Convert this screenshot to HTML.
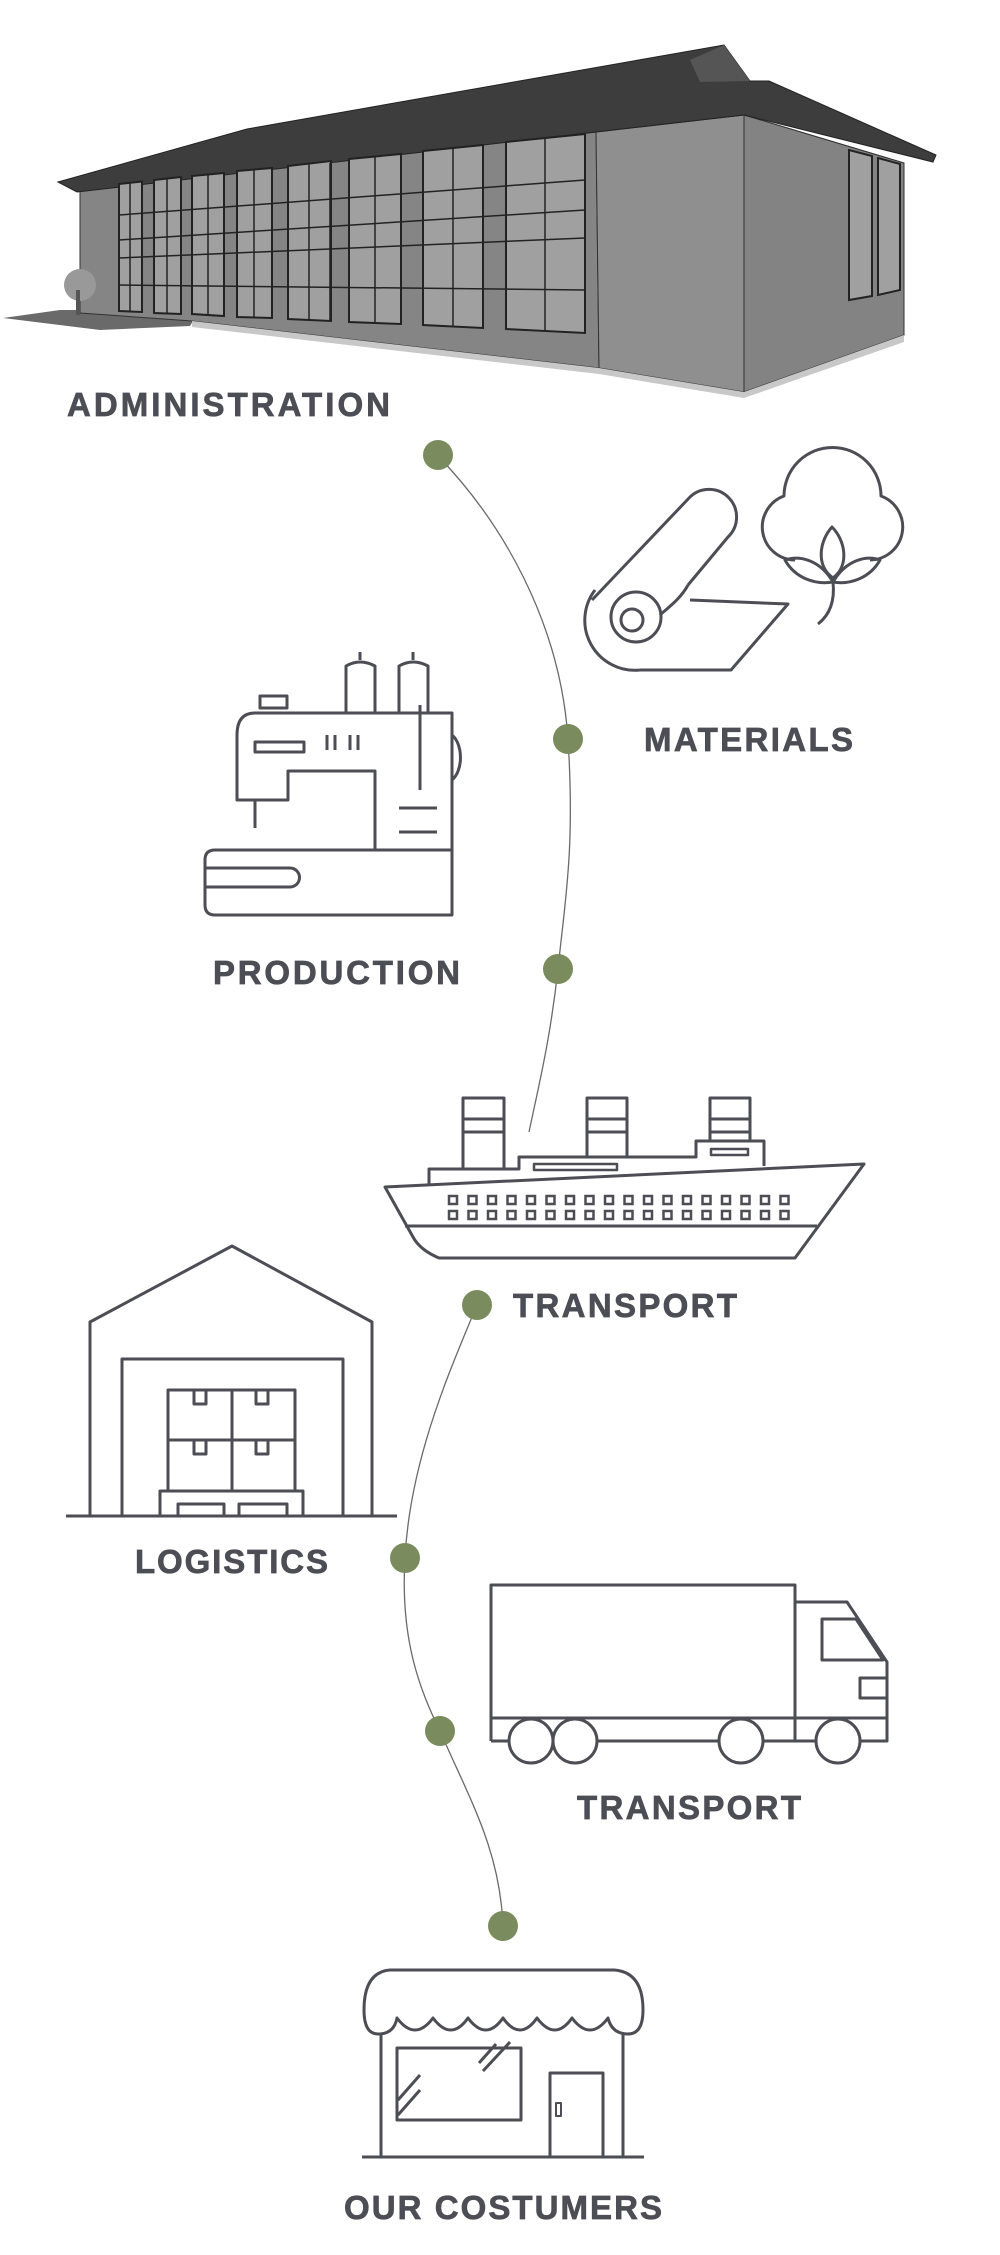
<!DOCTYPE html>
<html><head><meta charset="utf-8"><style>
html,body{margin:0;padding:0;background:#fff;}
svg{display:block;}
text{font-family:"Liberation Sans",sans-serif;font-weight:bold;fill:#4d4d55;stroke:#4d4d55;stroke-width:0.7;font-size:33px;}
</style></head><body>
<svg width="1000" height="2255" viewBox="0 0 1000 2255" xmlns="http://www.w3.org/2000/svg">
<!-- Building -->
<g>
<polygon points="3,318 60,310 200,310 190,326 100,330" fill="#6a6a6a"/>
<polygon points="80,189 596,132 599,368 192,321 80,313" fill="#858585" stroke="#333" stroke-width="1"/>
<polygon points="596,132 744,115 904,163 904,335 744,392 599,368" fill="#8f8f8f" stroke="#333" stroke-width="1"/>
<polygon points="744,115 904,163 904,335 744,392" fill="#838383" stroke="#333" stroke-width="1"/>
<polygon points="192,321 599,368 744,392 904,335 904,342 744,398 599,374 192,327" fill="#c8c8c8"/>
<polygon points="58,182 247,129 724,45 750,81 769,81 936,155 933,162 744,115 596,132 77,192" fill="#3d3d3d" stroke="#222" stroke-width="1"/>
<polygon points="690,60 724,45 750,81 700,82" fill="#555"/>
<g fill="#a0a0a0" stroke="#222" stroke-width="2">
<polygon points="119,184 142,181.5 142,312 119,311"/>
<polygon points="154,180 181,177 181,314 154,313"/>
<polygon points="192,176 224,173 224,316 192,314"/>
<polygon points="237,171 272,168 272,318 237,317"/>
<polygon points="288,166 331,161 331,321 288,319"/>
<polygon points="349,159 401,154 401,324 349,322"/>
<polygon points="423,151 483,145 483,328 423,325"/>
<polygon points="506,142 585,134 585,333 506,329"/>
<polygon points="849,150 872,156 872,296 849,300"/>
<polygon points="878,158 900,164 900,290 878,295"/>
</g>
<g stroke="#222" stroke-width="1.5">
<line x1="119" y1="240" x2="585" y2="210"/><line x1="119" y1="258" x2="585" y2="238"/>
<line x1="119" y1="215" x2="585" y2="180"/><line x1="119" y1="285" x2="585" y2="290"/>
<line x1="130" y1="183" x2="130" y2="312"/><line x1="167" y1="179" x2="167" y2="313"/>
<line x1="208" y1="175" x2="208" y2="315"/><line x1="254" y1="170" x2="254" y2="318"/>
<line x1="309" y1="164" x2="309" y2="320"/><line x1="375" y1="157" x2="375" y2="323"/>
<line x1="453" y1="148" x2="453" y2="327"/><line x1="545" y1="138" x2="545" y2="331"/>
<line x1="330" y1="163" x2="330" y2="321"/>
</g>
<circle cx="80" cy="285" r="16" fill="#999"/>
<rect x="76" y="290" width="4" height="25" fill="#555"/>
</g>
<text x="67" y="416" textLength="323" lengthAdjust="spacing">ADMINISTRATION</text>

<!-- Connector -->
<g fill="none" stroke="#6a6a6a" stroke-width="1.3">
<path d="M438,456 C500,520 560,620 568,739 C575,850 565,900 558,969 C550,1040 540,1080 529,1132"/>
<path d="M477,1305 C450,1370 410,1460 405,1558 C400,1640 420,1690 440,1731 C470,1800 500,1850 503,1926"/>
</g>
<g fill="#7a8c5e">
<circle cx="438" cy="455" r="15"/><circle cx="568" cy="739" r="15"/><circle cx="558" cy="969" r="15"/>
<circle cx="477" cy="1305" r="15"/><circle cx="405" cy="1558" r="15"/><circle cx="440" cy="1731" r="15"/><circle cx="503" cy="1926" r="15"/>
</g>

<g fill="none" stroke="#4d4d55" stroke-width="3" stroke-linejoin="round">
<!-- Materials -->
<path d="M592,600 L690,497 A27,27 0 0 1 728,537 L688,585 M640,670 A50,50 0 0 1 595,590"/>
<path d="M690,600 L788,604 L731,670 L640,670"/>
<circle cx="636" cy="617" r="25"/><circle cx="632" cy="620" r="11"/>
<path d="M688,585 C680,600 665,610 660,615"/>
<path d="M795,560 A33,33 0 0 1 784,496 A48,48 0 0 1 881,496 A33,33 0 0 1 870,560"/>
<path d="M833,578 C815,565 820,540 832,527 C845,540 850,565 833,578 Z"/>
<path d="M833,582 C820,560 800,555 785,560 C795,578 815,585 833,582 Z"/>
<path d="M833,582 C846,560 866,555 880,560 C870,578 850,585 833,582 Z"/>
<path d="M833,582 Q836,610 818,624"/>
<!-- Sewing machine -->
<path d="M346,712 V666 Q360,658 375,666 V712 M399,712 V666 Q413,658 428,666 V712 M360,660 V652 M413,660 V652"/>
<rect x="260" y="696" width="27" height="12"/>
<path d="M452,850 V713 H255 Q237,713 237,735 V800 H288 V771 H375 V850"/>
<path d="M452,735 A15,25 0 0 1 452,780"/>
<rect x="255" y="742" width="49" height="10"/>
<path d="M327,735 V750 M335,735 V750 M350,735 V750 M358,735 V750 M420,705 V790 M399,808 H437 M399,832 H437 M255,800 V828"/>
<path d="M215,850 H452 V915 H215 Q205,915 205,905 V860 Q205,850 215,850 Z"/>
<path d="M206,868 H290 A9.5,9.5 0 0 1 290,887 H206"/>
<!-- Ship -->
<path d="M385,1187 L864,1164 L795,1258 L439,1258 Q420,1250 413,1237 Z"/>
<path d="M405,1226 H817"/>
<path d="M429,1185 V1169 H519 V1157 H696 V1141 H764 V1166"/>
<path d="M463,1169 V1098 H504 V1169 M463,1119 H504 M463,1132 H504"/>
<path d="M587,1157 V1098 H627 V1157 M587,1119 H627 M587,1132 H627"/>
<path d="M710,1141 V1098 H750 V1141 M710,1119 H750 M710,1132 H750"/>
<rect x="534" y="1164" width="83" height="6" stroke-width="2.5"/>
<rect x="711" y="1149" width="37" height="6" stroke-width="2.5"/>
</g>
<g fill="none" stroke="#4d4d55" stroke-width="2.5">
<path id="ph" d="M449,1196h8v8h-8z M468.5,1196h8v8h-8z M488,1196h8v8h-8z M507.5,1196h8v8h-8z M527,1196h8v8h-8z M546.5,1196h8v8h-8z M566,1196h8v8h-8z M585.5,1196h8v8h-8z M605,1196h8v8h-8z M624.5,1196h8v8h-8z M644,1196h8v8h-8z M663.5,1196h8v8h-8z M683,1196h8v8h-8z M702.5,1196h8v8h-8z M722,1196h8v8h-8z M741.5,1196h8v8h-8z M761,1196h8v8h-8z M780.5,1196h8v8h-8z"/>
<use href="#ph" y="15"/>
</g>
<g fill="none" stroke="#4d4d55" stroke-width="3" stroke-linejoin="round">
<!-- Warehouse -->
<path d="M90,1516 V1322 L232,1246 L372,1322 V1516 M66,1516 H397"/>
<path d="M122,1516 V1359 H343 V1516"/>
<rect x="168" y="1390" width="127" height="101"/>
<path d="M232,1390 V1491 M168,1440 H295"/>
<path d="M194,1390 v14 h12 v-14 M256,1390 v14 h12 v-14 M194,1440 v14 h12 v-14 M256,1440 v14 h12 v-14"/>
<path d="M160,1516 V1491 H303 V1516 M178,1516 V1504 H224 V1516 M239,1516 V1504 H287 V1516"/>
<!-- Truck -->
<path d="M491,1741 V1585 H795 V1741 M795,1602 H847 L887,1662 V1741 H491 M491,1718 H887"/>
<path d="M822,1660 V1619 H856 L883,1660 Z"/>
<rect x="860" y="1678" width="27" height="20"/>
</g>
<g fill="#fff" stroke="#4d4d55" stroke-width="3">
<circle cx="531" cy="1741" r="22"/><circle cx="575" cy="1741" r="22"/><circle cx="741" cy="1741" r="22"/><circle cx="838" cy="1741" r="22"/>
</g>
<g fill="none" stroke="#4d4d55" stroke-width="3" stroke-linejoin="round">
<!-- Shop -->
<path d="M390,1970 H614 Q643,1972 643,2010 Q643,2034 628,2034 Q612,2034 608,2018 Q590,2042 572,2018 Q555,2042 537,2018 Q520,2042 503,2018 Q486,2042 468,2018 Q451,2042 433,2018 Q415,2042 397,2018 Q394,2034 378,2034 Q364,2034 364,2010 Q364,1972 390,1970 Z"/>
<path d="M381,2034 V2157 M623,2034 V2157 M362,2157 H644"/>
<rect x="397" y="2048" width="124" height="72"/>
<path d="M479,2063 L496,2044 M483,2071 L510,2042 M398,2100 L420,2075 M398,2115 L420,2090"/>
<path d="M550,2157 V2073 H603 V2157"/>
<rect x="556" y="2103" width="5" height="13" stroke-width="2"/>
</g>

<text x="644" y="751" textLength="209" lengthAdjust="spacing">MATERIALS</text>
<text x="213" y="984" textLength="247" lengthAdjust="spacing">PRODUCTION</text>
<text x="513" y="1317" textLength="224" lengthAdjust="spacing">TRANSPORT</text>
<text x="135" y="1573" textLength="193" lengthAdjust="spacing">LOGISTICS</text>
<text x="577" y="1819" textLength="224" lengthAdjust="spacing">TRANSPORT</text>
<text x="344" y="2219" textLength="318" lengthAdjust="spacing">OUR COSTUMERS</text>
</svg>
</body></html>
